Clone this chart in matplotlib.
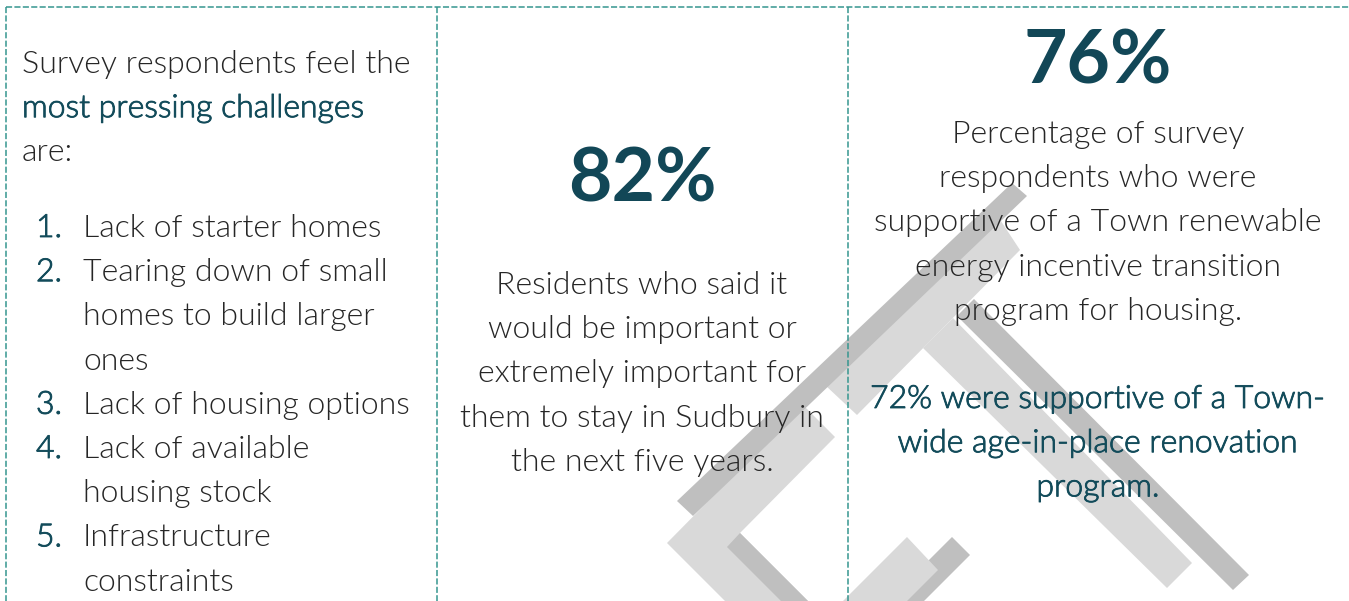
import matplotlib.pyplot as plt
import matplotlib.patheffects as pe
from matplotlib.patches import Polygon

# text content
intro_lines = ["Survey respondents feel the", "most pressing challenges", "are:"]
challenges = [
    ["Lack of starter homes"],
    ["Tearing down of small", "homes to build larger", "ones"],
    ["Lack of housing options"],
    ["Lack of available", "housing stock"],
    ["Infrastructure", "constraints"],
]
stay_pct = 82
stay_lines = ["Residents who said it", "would be important or", "extremely important for",
              "them to stay in Sudbury in", "the next five years."]
energy_pct = 76
energy_lines = ["Percentage of survey", "respondents who were", "supportive of a Town renewable",
                "energy incentive transition", "program for housing."]
age_pct = 72
age_lines = [f"{age_pct}% were supportive of a Town-", "wide age-in-place renovation", "program."]

# background logo pieces (pixel coords), drawn light first then dark
light_shapes = [
    [(995, 212), (1020, 250), (857, 415), (825, 385)],
    [(923, 348), (953, 318), (1192, 563), (1167, 588)],
    [(667, 543), (803, 405), (835, 437), (740, 533), (808, 601), (725, 601)],
]
dark_shapes = [
    [(1012, 183), (1027, 196), (693, 516), (677, 501)],
    [(727, 547), (740, 533), (808, 601), (781, 601)],
    [(957, 316), (974, 299), (1249, 575), (1233, 590)],
    [(952, 537), (970, 555), (924, 601), (888, 601)],
]
top_light = [[(843, 601), (907, 537), (938, 570), (907, 601)]]

W, H = 1349, 601
DARK = "#262626"
TEAL = "#124b5a"
BIG = "#124757"
DASH = "#35968f"
LIGHT_GREY = "#d9d9d9"
DARK_GREY = "#bfbfbf"

fig = plt.figure(figsize=(W / 100, H / 100), dpi=100)
ax = fig.add_axes([0, 0, 1, 1])
ax.set_xlim(0, W)
ax.set_ylim(H, 0)
ax.axis("off")

for pts in light_shapes:
    ax.add_patch(Polygon(pts, closed=True, color=LIGHT_GREY, lw=0, zorder=1))
for pts in dark_shapes:
    ax.add_patch(Polygon(pts, closed=True, color=DARK_GREY, lw=0, zorder=2))
for pts in top_light:
    ax.add_patch(Polygon(pts, closed=True, color=LIGHT_GREY, lw=0, zorder=3))

# dashed frame
dash_kw = dict(color=DASH, lw=1.1, ls=(0, (4, 1.5)), zorder=4)
ax.plot([6, W], [7, 7], **dash_kw)
for x in [6, 437, 848]:
    ax.plot([x, x], [7, H], **dash_kw)

fs = 23
step = 44.2
body = dict(family="Lato", fontsize=fs, fontweight=300, zorder=5)
thick = [pe.withStroke(linewidth=0.6, foreground=TEAL)]

# left column
for i, line in enumerate(intro_lines):
    if i == 1:
        ax.text(22, 73 + i * step, line, color=TEAL, ha="left", va="baseline", path_effects=thick, **body)
    else:
        ax.text(22, 73 + i * step, line, color=DARK, ha="left", va="baseline", **body)

y = 237
for n, item in enumerate(challenges, start=1):
    ax.text(36, y, f"{n}.", color=TEAL, ha="left", va="baseline", path_effects=thick, **body)
    for line in item:
        ax.text(83, y, line, color=DARK, ha="left", va="baseline", **body)
        y += step

# middle column
ax.text(642, 202, f"{stay_pct}%", color=BIG, fontweight="bold", family="Lato", fontsize=54,
        ha="center", va="baseline", zorder=5)
for i, line in enumerate(stay_lines):
    ax.text(642, 294 + i * step, line, color=DARK, ha="center", va="baseline", **body)

# right column
ax.text(1098, 84, f"{energy_pct}%", color=BIG, fontweight="bold", family="Lato", fontsize=54,
        ha="center", va="baseline", zorder=5)
for i, line in enumerate(energy_lines):
    ax.text(1098, 143 + i * step, line, color=DARK, ha="center", va="baseline", **body)
for i, line in enumerate(age_lines):
    ax.text(1098, 408 + i * step, line, color=TEAL, ha="center", va="baseline", path_effects=thick, **body)

fig.savefig("out.png", dpi=100)
